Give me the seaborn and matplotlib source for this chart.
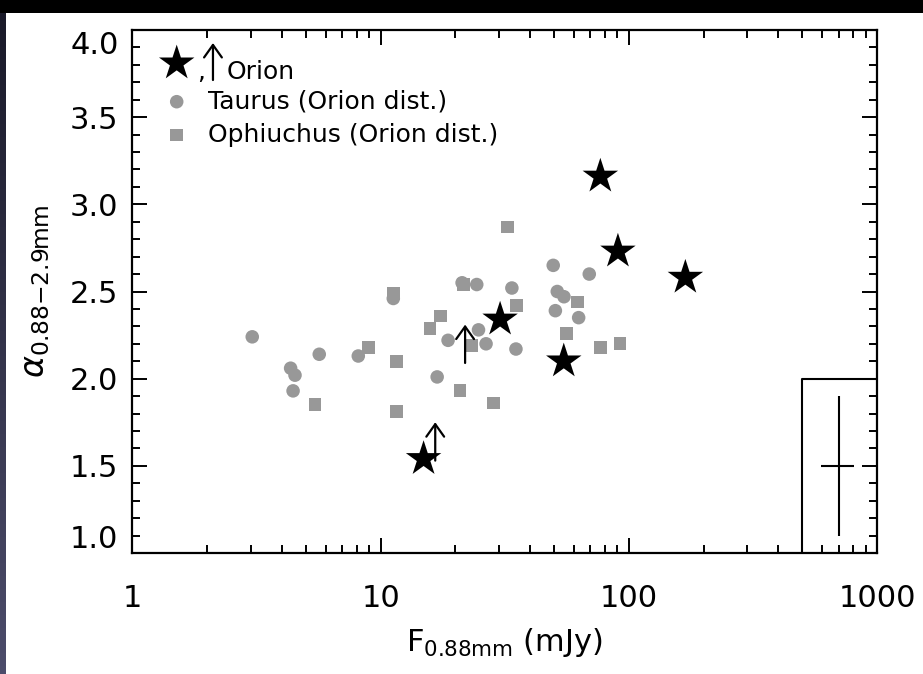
import numpy as np
import pandas as pd
import matplotlib
matplotlib.use("Agg")
import matplotlib.pyplot as plt
from matplotlib.patches import Rectangle
from matplotlib.transforms import ScaledTranslation
from matplotlib.ticker import LogLocator, NullFormatter, FixedLocator, FixedFormatter, MultipleLocator
import seaborn as sns

# Orion disks (filled stars)
orion_flux = [76.8, 90.4, 169.0, 30.3, 54.7, 14.9]
orion_alpha = [3.16, 2.73, 2.58, 2.34, 2.10, 1.54]

# Orion lower limits on alpha (upward arrows)
limit_flux = [21.9, 16.6]
limit_alpha = [2.09, 1.53]
arrow_length = 0.22

# Taurus disks scaled to the Orion distance
taurus_flux = [3.04, 4.34, 4.52, 4.44, 5.66, 8.13, 11.25, 18.7, 16.9, 24.8, 26.6,
               24.4, 21.3, 49.6, 69.3, 51.5, 54.8, 50.6, 62.8, 33.8, 35.1]
taurus_alpha = [2.24, 2.06, 2.02, 1.93, 2.14, 2.13, 2.46, 2.22, 2.01, 2.28, 2.20,
                2.54, 2.55, 2.65, 2.60, 2.50, 2.47, 2.39, 2.35, 2.52, 2.17]

# Ophiuchus disks scaled to the Orion distance
oph_flux = [11.25, 8.92, 11.6, 5.44, 11.6, 17.4, 15.8, 21.5, 23.3, 20.9, 28.5,
            32.4, 35.3, 62.2, 56.2, 77.1, 92.2]
oph_alpha = [2.49, 2.18, 2.10, 1.85, 1.81, 2.36, 2.29, 2.54, 2.19, 1.93, 1.86,
             2.87, 2.42, 2.44, 2.26, 2.18, 2.20]

# typical uncertainty shown in the corner box
typ_flux = 700.0
typ_alpha = 1.5
typ_flux_err_frac = 0.15
typ_alpha_err = 0.4
box_flux_min = 500.0
box_alpha_max = 2.0

x_ticks = [1, 10, 100, 1000]
x_tick_labels = ["1", "10", "100", "1000"]
y_ticks = [1.0, 1.5, 2.0, 2.5, 3.0, 3.5, 4.0]
y_tick_labels = ["1.0", "1.5", "2.0", "2.5", "3.0", "3.5", "4.0"]

sns.set_style("white")
plt.rcParams["font.family"] = ["DejaVu Sans"]
plt.rcParams["mathtext.fontset"] = "dejavusans"
plt.rcParams["text.color"] = "black"
plt.rcParams["axes.labelcolor"] = "black"
plt.rcParams["xtick.color"] = "black"
plt.rcParams["ytick.color"] = "black"

GRAY = "#989898"
W, H = 923, 674

fig = plt.figure(figsize=(W / 100, H / 100), dpi=100, facecolor="black")

# white slide panel and the bluish strip along the left edge
fig.patches.append(Rectangle((6 / W, 0), 1, 1 - 13 / H, transform=fig.transFigure,
                             facecolor="white", edgecolor="none", zorder=-5))
strip = fig.add_axes([0, 0, 6 / W, 1 - 13 / H], zorder=-4)
grad = np.linspace(0, 1, 256)[:, None]
top_c = np.array([0.10, 0.10, 0.16])
bot_c = np.array([0.30, 0.30, 0.42])
img = top_c[None, None, :] * (1 - grad[:, :, None]) + bot_c[None, None, :] * grad[:, :, None]
strip.imshow(img, aspect="auto", extent=[0, 1, 0, 1], origin="upper")
strip.axis("off")

ax = fig.add_axes([132.4 / W, (H - 553) / H, (877 - 132.4) / W, (553 - 30) / H])
ax.set_facecolor("white")

taurus = pd.DataFrame({"flux": taurus_flux, "alpha": taurus_alpha})
oph = pd.DataFrame({"flux": oph_flux, "alpha": oph_alpha})
orion = pd.DataFrame({"flux": orion_flux, "alpha": orion_alpha})

sns.scatterplot(data=taurus, x="flux", y="alpha", marker="o", s=95, color=GRAY,
                edgecolor="none", ax=ax, zorder=3)
sns.scatterplot(data=oph, x="flux", y="alpha", marker="s", s=85, color=GRAY,
                edgecolor="none", ax=ax, zorder=3)
sns.scatterplot(data=orion, x="flux", y="alpha", marker="*", s=720, color="black",
                edgecolor="none", ax=ax, zorder=5)

arrow_kw = dict(arrowstyle="->,head_length=0.45,head_width=0.32", color="black",
                lw=1.6, shrinkA=0, shrinkB=0, mutation_scale=20)
for fx, a in zip(limit_flux, limit_alpha):
    ax.annotate("", xy=(fx, a + arrow_length), xytext=(fx, a),
                arrowprops=arrow_kw, zorder=6)

# typical error bars inside the corner box
ax.plot([box_flux_min, box_flux_min, 1000], [1.0, box_alpha_max, box_alpha_max],
        color="black", lw=1.5, zorder=4)
ax.errorbar([typ_flux], [typ_alpha],
            xerr=[[typ_flux * typ_flux_err_frac], [typ_flux * typ_flux_err_frac]],
            yerr=[[typ_alpha_err], [typ_alpha_err]],
            fmt="none", ecolor="black", elinewidth=1.5, capsize=0, zorder=4)

ax.set_xscale("log")
ax.set_xlim(1, 1000)
ax.set_ylim(1.0, 4.0)

ax.xaxis.set_major_locator(FixedLocator(x_ticks))
ax.xaxis.set_major_formatter(FixedFormatter(x_tick_labels))
ax.xaxis.set_minor_locator(LogLocator(base=10, subs=np.arange(2, 10), numticks=20))
ax.xaxis.set_minor_formatter(NullFormatter())
ax.yaxis.set_major_locator(FixedLocator(y_ticks))
ax.yaxis.set_major_formatter(FixedFormatter(y_tick_labels))
ax.yaxis.set_minor_locator(MultipleLocator(0.1))

ax.tick_params(which="both", direction="in", top=True, right=True, bottom=True,
               left=True, color="black", width=1.4, labelcolor="black")
ax.tick_params(which="major", length=11)
ax.tick_params(which="minor", length=5.5)
ax.tick_params(axis="x", which="major", labelsize=22, pad=22)
ax.tick_params(axis="y", which="major", labelsize=22, pad=10)
for sp in ax.spines.values():
    sp.set_color("black")
    sp.set_linewidth(1.6)
    sp.set_visible(True)

ax.set_xlabel(r"F$_{\mathregular{0.88mm}}$ (mJy)", fontsize=22, color="black")
ax.set_ylabel(r"$\alpha_{\mathregular{0.88{-}2.9mm}}$", fontsize=24, color="black")
ax.xaxis.set_label_coords(0.5, -0.14)
ax.yaxis.set_label_coords(-0.108, 0.5)

# legend drawn in axes fraction
tA = ax.transAxes
ax.scatter([0.0595], [0.9364], transform=tA, marker="*", s=720, color="black",
           edgecolor="none", clip_on=False, zorder=6)
ax.text(0.087, 0.906, ",", transform=tA, fontsize=18, ha="left", va="baseline")
ax.annotate("", xy=(0.1082, 0.9751), xytext=(0.1082, 0.9044), xycoords="axes fraction",
            arrowprops=arrow_kw)
ax.text(0.127, 0.9063, "Orion", transform=tA, fontsize=18, ha="left", va="baseline")
ax.scatter([0.0595], [0.8629], transform=tA, marker="o", s=95, color=GRAY,
           edgecolor="none", clip_on=False)
ax.text(0.1015, 0.8629, "Taurus (Orion dist.)", transform=tA, fontsize=18,
        ha="left", va="center")
ax.scatter([0.0595], [0.7992], transform=tA, marker="s", s=85, color=GRAY,
           edgecolor="none", clip_on=False)
ax.text(0.1015, 0.7992, "Ophiuchus (Orion dist.)", transform=tA, fontsize=18,
        ha="left", va="center")

# nudge the outermost y tick labels inward
ticks = ax.yaxis.get_major_ticks()
ticks[0].label1.set_transform(ticks[0].label1.get_transform()
                              + ScaledTranslation(0, 0.16, fig.dpi_scale_trans))
ticks[-1].label1.set_transform(ticks[-1].label1.get_transform()
                               + ScaledTranslation(0, -0.13, fig.dpi_scale_trans))

fig.savefig("out.png", dpi=100, facecolor=fig.get_facecolor())
